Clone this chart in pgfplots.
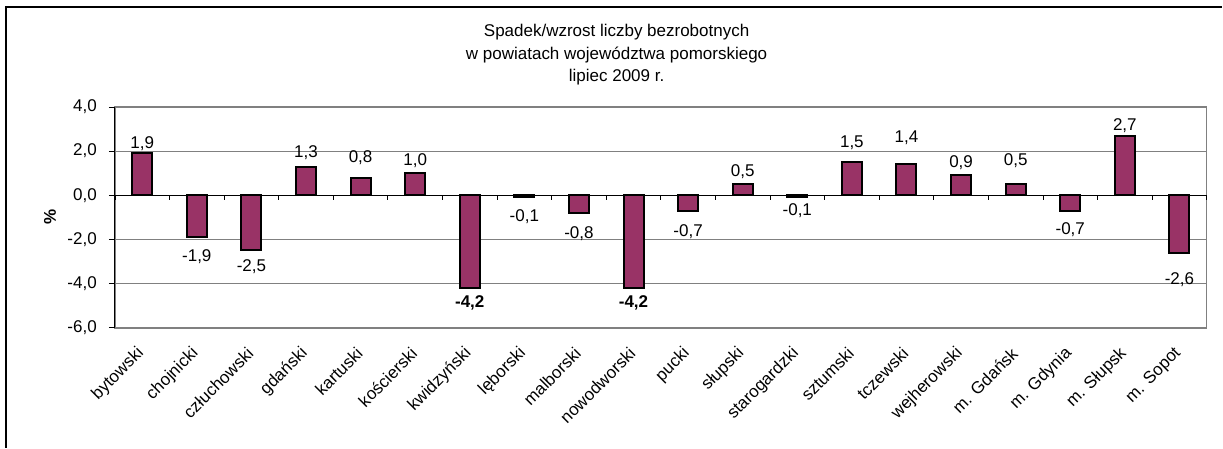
\documentclass[border=0pt]{standalone}
\usepackage{pgfplots}
\pgfplotsset{compat=1.18}
\usepackage{fontspec}
\setmainfont{Liberation Sans}
\definecolor{barc}{RGB}{153,51,102}
\definecolor{gridc}{RGB}{128,128,128}
\begin{document}
\fontsize{17}{20}\selectfont
\begin{tikzpicture}[x=1pt,y=1pt]
\path[fill=white] (0,0) rectangle (1223,448);
\draw[black, line width=1.6pt] (6,0) -- (6,441) -- (1223,441);
\node[anchor=base] at (617,411) {Spadek/wzrost liczby bezrobotnych};
\node[anchor=base] at (617,388.5) {w powiatach województwa pomorskiego};
\node[anchor=base] at (617,366) {lipiec 2009 r.};
\begin{axis}[
  at={(115pt,120pt)}, anchor=south west,
  scale only axis, width=1092.5pt, height=221pt,
  xmin=-0.5, xmax=19.5, ymin=-6, ymax=4,
  clip=false,
  axis line style={gridc, line width=1.5pt},
  ytick={-6,-4,-2,0,2,4},
  yticklabels={{-6,0},{-4,0},{-2,0},{0,0},{2,0},{4,0}},
  ytick pos=left,
  tick align=outside,
  major tick length=6pt,
  y tick style={black, line width=0.8pt},
  yticklabel style={anchor=east, inner sep=0pt, xshift=-12pt},
  ymajorgrids,
  major grid style={gridc, line width=0.8pt},
  xtick={0,...,19},
  xticklabels={bytowski,chojnicki,człuchowski,gdański,kartuski,kościerski,kwidzyński,lęborski,malborski,nowodworski,pucki,słupski,starogardzki,sztumski,tczewski,wejherowski,m. Gdańsk,m. Gdynia,m. Słupsk,m. Sopot},
  x tick style={draw=none},
  xticklabel style={yshift=-17pt, xshift=-1pt, rotate=45, anchor=east, inner sep=0pt},
  ylabel={\textbf{\%}},
  ylabel style={at={(axis description cs:0,0.5)}, anchor=center, yshift=65pt},
]
\draw[black, line width=1pt] (axis cs:-0.5,-6) -- (axis cs:-0.5,4);
\draw[black, line width=1pt] (axis cs:-0.5,0) -- (axis cs:19.5,0);
\pgfplotsinvokeforeach{-0.5,0.5,...,19.5}{\draw[black, line width=0.8pt] (axis cs:#1,0) -- ++(0pt,-5pt);}
\addplot[ybar, bar width=20pt, bar shift=0pt, fill=barc, draw=black, line width=2pt] coordinates {
(0,1.9) (1,-1.9) (2,-2.5) (3,1.3) (4,0.8) (5,1.0) (6,-4.2) (7,-0.1) (8,-0.8) (9,-4.2)
(10,-0.7) (11,0.5) (12,-0.1) (13,1.5) (14,1.4) (15,0.9) (16,0.5) (17,-0.7) (18,2.7) (19,-2.6)
};
\addplot[only marks, mark=*, mark size=0pt, mark options={draw=none, fill=none},
  nodes near coords, point meta=explicit symbolic,
  nodes near coords style={anchor=center, inner sep=0pt, font=\fontsize{17}{20}\selectfont}]
  table[meta=lab] {
x y lab
0 2.35 1,9
1 -2.76 -1,9
2 -3.24 -2,5
3 1.92 1,3
4 1.71 0,8
5 1.56 1,0
7 -0.99 -0,1
8 -1.73 -0,8
10 -1.66 -0,7
11 1.06 0,5
12 -0.68 -0,1
13 2.37 1,5
14 2.62 1,4
15 1.49 0,9
16 1.58 0,5
17 -1.57 -0,7
18 3.14 2,7
19 -3.83 -2,6
};
\addplot[only marks, mark=*, mark size=0pt, mark options={draw=none, fill=none},
  nodes near coords, point meta=explicit symbolic,
  nodes near coords style={anchor=center, inner sep=0pt, font=\fontsize{17}{20}\selectfont\bfseries}]
  table[meta=lab] {
x y lab
6 -4.86 -4,2
9 -4.85 -4,2
};
\end{axis}
\end{tikzpicture}
\end{document}
